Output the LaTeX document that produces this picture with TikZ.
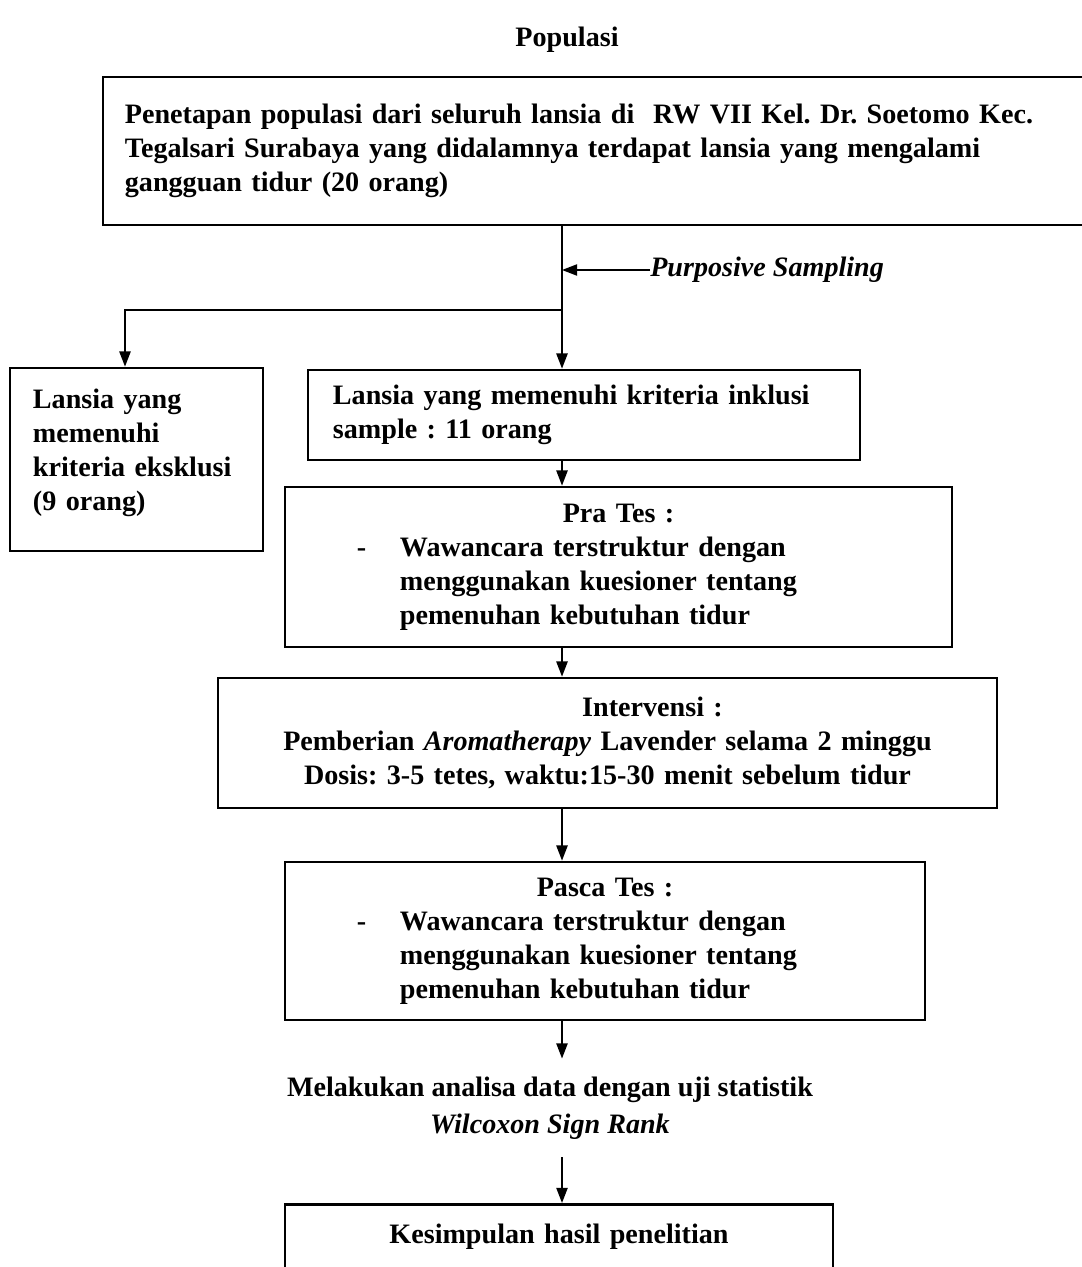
\documentclass[tikz,border=0pt]{standalone}
\usepackage{fontspec}
\setmainfont{Liberation Serif}
\usetikzlibrary{positioning, arrows.meta, calc}
\frenchspacing
\newcommand{\bodyfont}{\fontsize{20}{24.2}\selectfont\bfseries}
\newcommand{\dashline}[1]{\hspace*{1.55cm}\makebox[1.075cm][l]{-}#1}
\newcommand{\hangline}[1]{\hspace*{2.625cm}#1}
\tikzset{
  box/.style       ={draw, line width=1.9pt, font=\bodyfont,
                     inner ysep=0pt},
  leftbox/.style   ={box, align=left},
  centerbox/.style ={box, align=center},
  plaintext/.style ={font=\bodyfont, align=center},
  flow/.style      ={-{Triangle[length=0.38cm, width=0.28cm]},
                     line width=1.3pt},
}

\begin{document}
\begin{tikzpicture}[x=0.025cm, y=-0.025cm]
  \useasboundingbox (0,0) rectangle (1082,1267);
  \clip (0,0) rectangle (1082,1267);

  % ============================================================
  % POPULATION (top)
  % ============================================================
  \node[plaintext] (title) at (567,40) {Populasi};

  \node[leftbox, minimum width=24.8cm, minimum height=3.7cm,
        inner xsep=0.55cm, text width=23.7cm] (popbox) at (599,151) {%
    Penetapan populasi dari seluruh lansia di~ RW VII Kel. Dr. Soetomo Kec.\\
    Tegalsari Surabaya yang didalamnya terdapat lansia yang mengalami\\
    gangguan tidur (20 orang)};

  \coordinate (trunk)  at (562,310);
  \coordinate (branch) at (125,310);

  \node[plaintext, anchor=west, inner sep=0pt] (purp) at (650,270)
    {\itshape Purposive Sampling};

  % ============================================================
  % SAMPLE SPLIT
  % ============================================================
  \node[leftbox, minimum width=6.325cm, minimum height=4.575cm,
        inner xsep=0.575cm, text width=5.175cm] (ekskl) at (136.5,459.5) {%
    Lansia yang\\
    memenuhi\\
    kriteria eksklusi\\
    (9 orang)\\[-10pt]\mbox{}};

  \node[leftbox, minimum width=13.8cm, minimum height=2.25cm,
        inner xsep=0.625cm, text width=12.55cm] (inkl) at (584,415) {%
    Lansia yang memenuhi kriteria inklusi\\
    sample : 11 orang};

  % ============================================================
  % MAIN STEPS
  % ============================================================
  \node[leftbox, minimum width=16.675cm, minimum height=4cm,
        inner xsep=0.25cm, text width=16.175cm] (pratest) at (618.5,567) {%
    \makebox[\linewidth]{Pra Tes :}\\
    \dashline{Wawancara terstruktur dengan}\\
    \hangline{menggunakan kuesioner tentang}\\
    \hangline{pemenuhan kebutuhan tidur}};

  \node[centerbox, minimum width=19.475cm, minimum height=3.25cm,
        inner xsep=0.25cm, text width=18.975cm] (interv) at (607.5,743) {%
    \hspace*{2.25cm}Intervensi :\\
    Pemberian \textit{Aromatherapy} Lavender selama 2 minggu\\
    Dosis: 3-5 tetes, waktu:15-30 menit sebelum tidur};

  \node[leftbox, minimum width=16cm, minimum height=3.95cm,
        inner xsep=0.25cm, text width=15.5cm] (pascatest) at (605,941) {%
    \makebox[\linewidth]{Pasca Tes :}\\
    \dashline{Wawancara terstruktur dengan}\\
    \hangline{menggunakan kuesioner tentang}\\
    \hangline{pemenuhan kebutuhan tidur}};

  \node[plaintext, inner sep=0.45cm] (analisa) at (550,1108) {%
    Melakukan analisa data dengan uji statistik\\[2pt]
    \textit{Wilcoxon Sign Rank}};

  \node[centerbox, anchor=north, minimum width=13.7cm,
        inner xsep=0.25cm, inner ysep=0.5cm, text width=13.2cm,
        text depth=3cm] (kesimp) at (559,1203) {%
    Kesimpulan hasil penelitian};

  % ============================================================
  % ARROWS
  % ============================================================
  \draw[flow] (trunk |- popbox.south) -- (trunk |- inkl.north);
  \draw[flow] (purp.west) -- (purp.west -| trunk);
  \draw[flow] (trunk) -- (branch) -- (branch |- ekskl.north);

  \draw[flow] (trunk |- inkl.south)      -- (trunk |- pratest.north);
  \draw[flow] (trunk |- pratest.south)   -- (trunk |- interv.north);
  \draw[flow] (trunk |- interv.south)    -- (trunk |- pascatest.north);
  \draw[flow] (trunk |- pascatest.south) -- (trunk |- analisa.north);
  \draw[flow] (trunk |- analisa.south)   -- (trunk |- kesimp.north);

\end{tikzpicture}
\end{document}
